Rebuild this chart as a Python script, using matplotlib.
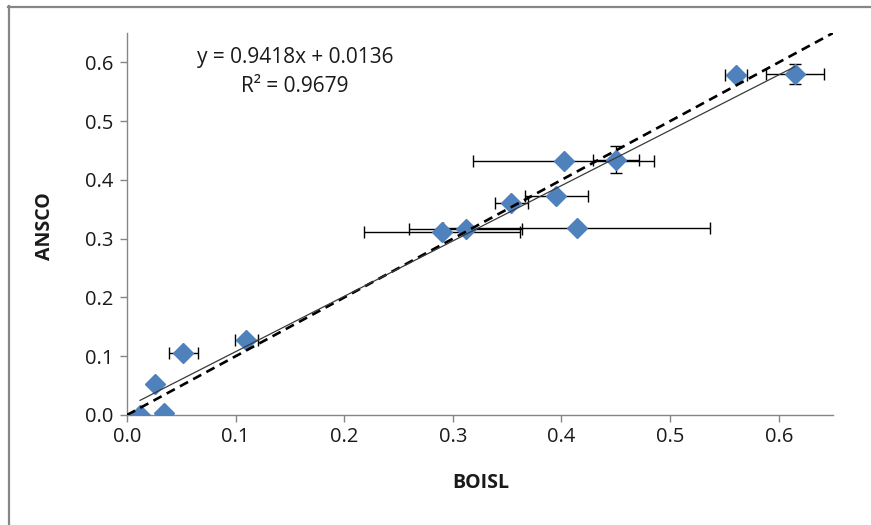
import matplotlib.pyplot as plt
from matplotlib.lines import Line2D

# BOISL vs ANSCO values
boisl = [0.012, 0.034, 0.026, 0.052, 0.110, 0.290, 0.312, 0.414, 0.354, 0.395, 0.402, 0.450, 0.561, 0.615]
ansco = [0.000, 0.003, 0.053, 0.106, 0.127, 0.311, 0.316, 0.318, 0.361, 0.373, 0.433, 0.434, 0.578, 0.580]
boisl_err = [0, 0, 0, 0.013, 0.011, 0.072, 0.052, 0.123, 0.015, 0.029, 0.083, 0.021, 0.010, 0.027]
ansco_err = [0, 0, 0, 0, 0, 0, 0, 0, 0, 0, 0, 0.023, 0, 0.017]

slope = 0.9418
intercept = 0.0136
r2 = 0.9679

ticks = [0.0, 0.1, 0.2, 0.3, 0.4, 0.5, 0.6]
ax_max = 0.65

plt.rcParams["font.family"] = ["Open Sans", "DejaVu Sans"]
fs = 14.5

W, H = 871, 525
fig = plt.figure(figsize=(W / 100, H / 100), dpi=100)
ax = fig.add_axes([127 / W, 1 - 415 / H, (833 - 127) / W, (415 - 33) / H])

gray = "#868686"
txt = "#1a1a1a"

# error bars (behind markers)
ax.errorbar(boisl, ansco, xerr=boisl_err, yerr=ansco_err, fmt="none",
            ecolor="black", elinewidth=1.0, capsize=4, capthick=1.0, zorder=2)
ax.plot(boisl, ansco, linestyle="none", marker="D", markersize=9.8,
        color="#4F81BD", markeredgecolor="#4F81BD", zorder=3)

# 1:1 line
ax.plot([0, ax_max], [0, ax_max], color="black", linestyle=(0, (3.5, 2.2)),
        linewidth=1.9, zorder=4)

# linear trendline over the data range
x0, x1 = min(boisl), max(boisl)
ax.plot([x0, x1], [slope * x0 + intercept, slope * x1 + intercept],
        color="#3a3a3a", linewidth=0.9, zorder=4)

ax.set_xlim(0, ax_max)
ax.set_ylim(0, ax_max)
ax.set_xticks(ticks)
ax.set_yticks(ticks)
ax.set_xticklabels([f"{t:.1f}" for t in ticks])
ax.set_yticklabels([f"{t:.1f}" for t in ticks])
ax.tick_params(axis="both", colors=gray, labelcolor=txt, labelsize=fs,
               length=5, width=1, direction="out")
ax.tick_params(axis="x", pad=4)
ax.tick_params(axis="y", pad=5)

for side in ["top", "right"]:
    ax.spines[side].set_visible(False)
for side in ["left", "bottom"]:
    ax.spines[side].set_color(gray)
    ax.spines[side].set_linewidth(1)

fig.text(45 / W, 1 - 226 / H, "ANSCO", rotation=90, ha="center", va="center",
         fontsize=14, fontweight="bold", color=txt)
fig.text(481 / W, 1 - 483 / H, "BOISL", ha="center", va="center",
         fontsize=14, fontweight="bold", color=txt)

# trendline equation
fig.text(295 / W, 1 - 58 / H, f"y = {slope}x + {intercept}", ha="center", va="center",
         fontsize=15, color=txt)
fig.text(295 / W, 1 - 87 / H, f"R² = {r2}", ha="center", va="center",
         fontsize=15, color=txt)

# outer chart frame (only left and top edges fall inside the picture)
fig.add_artist(Line2D([8.5 / W, 8.5 / W], [0, 1 - 6 / H], transform=fig.transFigure,
                      color=gray, linewidth=1.6))
fig.add_artist(Line2D([8 / W, 1], [1 - 6.5 / H, 1 - 6.5 / H], transform=fig.transFigure,
                      color=gray, linewidth=1.6))

fig.savefig("out.png", dpi=100)
